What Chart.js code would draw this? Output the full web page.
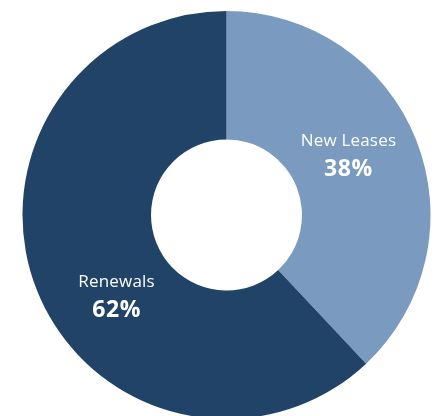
<!DOCTYPE html>
<html>
<head>
<meta charset="utf-8">
<script src="https://cdn.jsdelivr.net/npm/chart.js@4/dist/chart.umd.min.js"></script>
<style>
html,body{margin:0;padding:0;background:#fff;overflow:hidden;width:448px;height:416px;}
#wrap{position:absolute;left:0;top:0;width:453px;height:430px;}
</style>
</head>
<body>
<div id="wrap"><canvas id="c"></canvas></div>
<script>
const categories = ["New Leases", "Renewals"];
const shares = [38, 62];
const colors = ["#7A9AC0", "#214368"];

// label offsets relative to each arc's center point (px)
const labelOffsets = [{dx: -8, dy: -8}, {dx: 20, dy: 30}];

const labelPlugin = {
  id: 'sliceLabels',
  afterDatasetsDraw(chart) {
    const ctx = chart.ctx;
    const meta = chart.getDatasetMeta(0);
    meta.data.forEach((arc, i) => {
      const p = arc.getCenterPoint();
      const x = p.x + labelOffsets[i].dx;
      const y = p.y + labelOffsets[i].dy;
      ctx.save();
      ctx.fillStyle = '#ffffff';
      ctx.textAlign = 'center';
      ctx.textBaseline = 'middle';
      ctx.font = '400 17px "Open Sans", sans-serif';
      ctx.letterSpacing = '0.2px';
      ctx.fillText(categories[i], x, y - 14);
      ctx.font = '700 23px "Open Sans", sans-serif';
      ctx.letterSpacing = '0.6px';
      ctx.fillText(shares[i] + '%', x, y + 14);
      ctx.restore();
    });
  }
};

new Chart(document.getElementById('c'), {
  type: 'doughnut',
  data: {
    labels: categories,
    datasets: [{
      data: shares,
      backgroundColor: colors,
      borderWidth: 0
    }]
  },
  options: {
    responsive: true,
    maintainAspectRatio: false,
    animation: false,
    radius: 204,
    cutout: '37%',
    layout: {padding: 0},
    plugins: {legend: {display: false}, tooltip: {enabled: false}}
  },
  plugins: [labelPlugin]
});
</script>
</body>
</html>
